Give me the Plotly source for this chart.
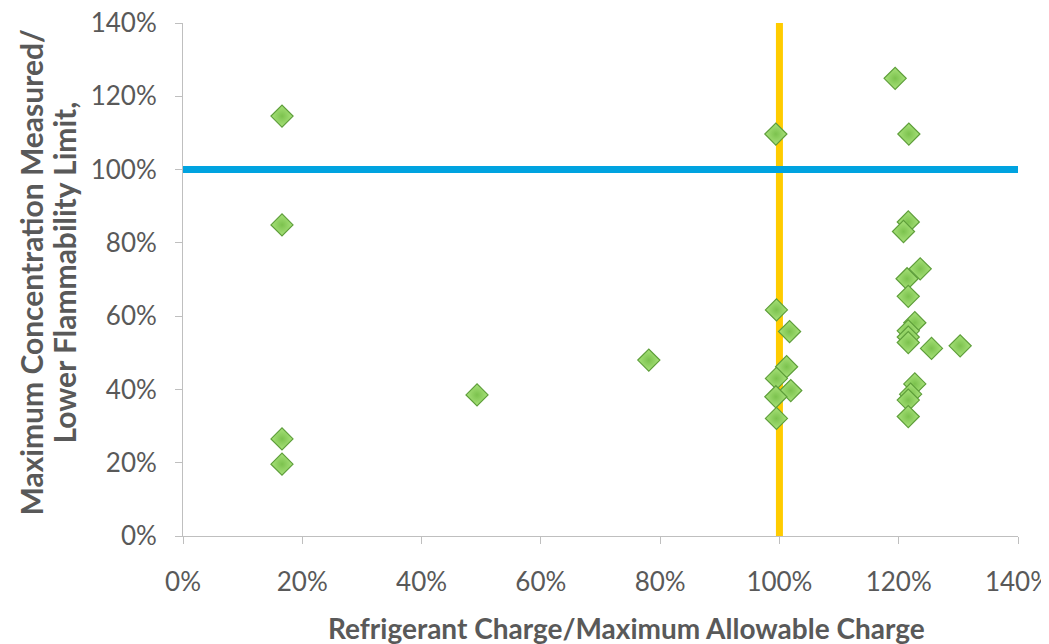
import plotly.graph_objects as go

# Data (fractions; axis shows percent)
charge_ratio = [0.166, 0.166, 0.166, 0.166, 0.493, 0.781,
                0.994, 0.995, 1.017, 1.012, 0.995, 1.019, 0.994, 0.995,
                1.194, 1.217, 1.216, 1.208, 1.236, 1.214, 1.216, 1.227,
                1.216, 1.216, 1.216, 1.255, 1.303, 1.227, 1.220, 1.216, 1.216]
conc_ratio = [1.146, 0.849, 0.265, 0.196, 0.385, 0.480,
              1.097, 0.617, 0.558, 0.462, 0.430, 0.397, 0.380, 0.321,
              1.249, 1.097, 0.857, 0.831, 0.729, 0.702, 0.654, 0.582,
              0.560, 0.543, 0.528, 0.512, 0.519, 0.415, 0.387, 0.371, 0.326]

lfl_line_x = [0.0, 1.4]
lfl_line_y = [1.0, 1.0]
max_charge_x = [1.0, 1.0]
max_charge_y = [0.0, 1.4]

tick_vals = [0, 0.2, 0.4, 0.6, 0.8, 1.0, 1.2, 1.4]
tick_text = ["0%", "20%", "40%", "60%", "80%", "100%", "120%", "140%"]

x_title = "Refrigerant Charge/Maximum Allowable Charge"
y_title_lines = ["Maximum Concentration Measured/", "Lower Flammability Limit,"]

FONT = "Lato, 'Open Sans', sans-serif"
GRAY = "#595959"

fig = go.Figure()
fig.add_trace(go.Scatter(x=max_charge_x, y=max_charge_y, mode="lines",
                         line=dict(color="#FFCC00", width=7), showlegend=False, hoverinfo="skip"))
fig.add_trace(go.Scatter(x=lfl_line_x, y=lfl_line_y, mode="lines",
                         line=dict(color="#00A3E0", width=7), showlegend=False, hoverinfo="skip"))
fig.add_trace(go.Scatter(x=charge_ratio, y=conc_ratio, mode="markers",
                         marker=dict(symbol="diamond", size=17, color="#A8E27A",
                                     gradient=dict(type="radial", color="#7CC24E"),
                                     line=dict(color="#5E9E3A", width=1.2)),
                         showlegend=False))

W, H = 1041, 636
L, R, T, B = 175, 31, 15, 108
PW = W - L - R
fig.update_layout(
    width=W, height=H,
    margin=dict(l=L, r=R, t=T, b=B, autoexpand=False),
    paper_bgcolor="white", plot_bgcolor="white",
    font=dict(family=FONT, color=GRAY, size=26),
)
fig.update_xaxes(range=[0, 1.4], tickvals=tick_vals, ticktext=tick_text, automargin=False,
                 showgrid=False, zeroline=False, showline=True, linecolor="#BFBFBF", linewidth=1,
                 ticks="outside", ticklen=7, tickcolor="#BFBFBF", ticklabeloverflow="allow",
                 tickfont=dict(size=26, color=GRAY, family=FONT), ticklabelstandoff=16)
fig.update_yaxes(range=[0, 1.4], tickvals=tick_vals, ticktext=tick_text, automargin=False,
                 showgrid=False, zeroline=False, showline=True, linecolor="#BFBFBF", linewidth=1,
                 ticks="outside", ticklen=7, tickcolor="#BFBFBF", ticklabeloverflow="allow",
                 tickfont=dict(size=26, color=GRAY, family=FONT), ticklabelstandoff=13)

# x title (slightly right of plot centre, as in the original)
fig.add_annotation(text="<b>" + x_title + "</b>", xref="paper", yref="paper",
                   x=(618 - L) / PW, y=0, yshift=-92, xanchor="center", yanchor="middle",
                   showarrow=False, font=dict(size=28, color=GRAY, family=FONT))

# two-line y title as rotated annotations (tighter line spacing)
for line, xpix in zip(y_title_lines, [22, 55]):
    fig.add_annotation(text="<b>" + line + "</b>", textangle=-90,
                       xref="paper", yref="paper",
                       x=(xpix - L) / PW, y=0.5, yshift=7,
                       xanchor="center", yanchor="middle", showarrow=False,
                       font=dict(size=30, color=GRAY, family=FONT))

fig.write_html("out.html")
